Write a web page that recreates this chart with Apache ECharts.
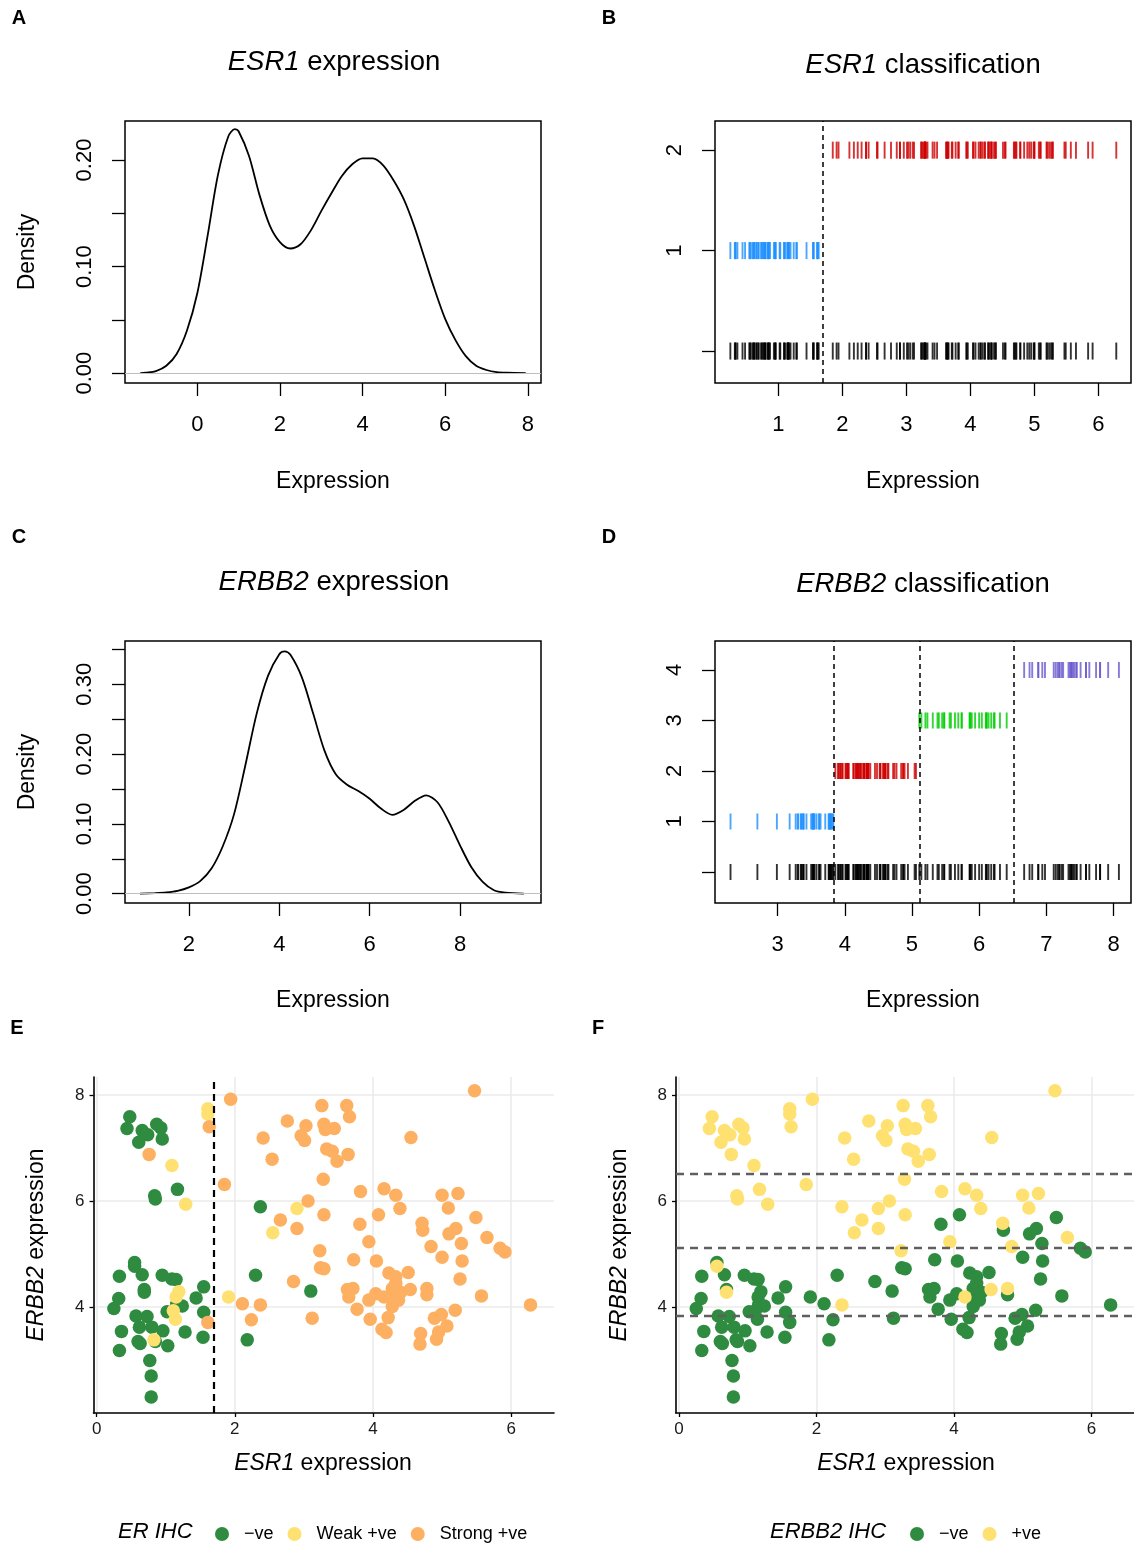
<!DOCTYPE html>
<html><head><meta charset="utf-8">
<script src="https://cdn.jsdelivr.net/npm/echarts@6/dist/echarts.min.js"></script>
<style>html,body{margin:0;padding:0;background:#fff}#c{width:1134px;height:1544px}</style>
</head><body><div id="c"></div>
<script>
// ---------- data ----------
// per-sample ESR1 expression (x in E/F), ERBB2 expression (y in E/F)
const esr1 = [0.48,0.44,0.66,0.74,0.87,0.93,0.61,0.95,0.76,1.09,0.84,0.85,1.17,1.29,1.61,1.61,1.63,1.94,1.85,2.37,
  2.41,2.54,2.76,3.03,2.96,3.01,3.26,3.29,3.31,3.33,3.28,3.06,2.90,3.29,2.66,2.55,2.90,3.23,3.24,3.29,
  2.85,3.10,3.12,2.30,2.11,2.37,2.24,2.18,1.91,1.61,1.55,1.55,1.54,1.44,0.55,0.55,0.33,0.66,0.95,1.09,
  1.15,0.69,0.69,0.32,0.25,1.19,1.15,1.16,1.24,1.02,1.11,1.14,0.57,0.73,0.62,0.80,0.96,0.36,0.60,0.63,
  0.83,0.85,1.03,1.28,0.33,0.77,0.79,0.79,3.62,3.66,3.44,3.41,3.48,3.64,3.82,4.16,4.33,4.39,4.08,3.81,
  3.94,3.72,4.05,4.55,5.47,5.00,5.23,5.09,5.49,4.71,4.72,5.10,5.20,4.84,5.28,5.00,5.29,5.65,5.84,5.91,
  5.26,5.57,6.28,4.51,4.23,4.33,4.54,4.78,4.78,3.63,3.71,3.65,3.77,3.96,3.94,4.04,4.16,4.28,4.30,4.37,
  4.28,4.22,4.13,4.19,4.69,4.68,4.89,4.99,5.07,4.95,4.92,5.19,4.33,4.40];
const erbb2 = [7.59,7.37,7.33,7.25,7.45,7.38,7.11,7.17,6.88,6.67,6.10,6.04,6.22,5.94,7.74,7.64,7.40,7.92,6.31,5.89,
  7.19,6.79,7.51,7.42,7.23,7.14,7.80,7.45,7.35,6.98,6.41,6.00,5.86,5.74,5.64,5.40,5.48,5.06,4.74,4.72,
  4.48,4.30,3.79,4.60,4.06,4.04,3.76,3.38,4.19,3.71,4.38,3.90,3.43,4.17,4.84,4.77,4.58,4.61,4.60,4.53,
  4.52,4.33,4.28,4.16,3.97,4.29,4.19,4.05,4.02,3.91,3.93,3.77,3.83,3.82,3.62,3.62,3.55,3.54,3.35,3.31,
  3.38,3.35,3.27,3.53,3.18,2.99,2.70,2.30,7.80,7.59,7.37,6.94,6.75,6.88,6.18,6.23,6.11,5.86,5.74,5.56,
  5.23,4.89,4.87,7.20,8.08,6.11,6.14,5.87,5.69,5.58,5.45,5.38,5.48,5.14,5.20,4.94,4.87,5.31,5.11,5.04,
  4.53,4.21,4.04,4.65,4.64,4.57,4.33,4.35,4.23,4.33,4.35,4.19,3.96,3.77,4.13,4.25,4.19,4.35,4.23,4.13,
  4.01,3.80,3.58,3.52,3.50,3.30,3.79,3.86,3.64,3.53,3.39,3.94,4.45,4.28];
// ER IHC class index (0 = −ve, 1 = Weak +ve, 2 = Strong +ve)
const erIHC = [0,0,0,0,0,0,0,0,2,1,0,0,0,1,1,1,2,2,2,0,
  2,2,2,2,2,2,2,2,2,2,2,2,1,2,2,1,2,2,2,2,
  2,0,2,0,2,2,2,0,1,2,0,0,0,0,0,0,0,0,0,0,
  0,0,0,0,0,1,1,0,0,0,1,1,0,0,0,0,0,0,0,0,
  1,0,0,0,0,0,0,0,2,2,2,2,2,2,2,2,2,2,2,2,
  2,2,2,2,2,2,2,2,2,2,2,2,2,2,2,2,2,2,2,2,
  2,2,2,2,2,2,2,2,2,2,2,2,2,2,2,2,2,2,2,2,
  2,2,2,2,2,2,2,2,2,2,2,2,2,2];
// ERBB2 IHC class index (0 = −ve, 1 = +ve)
const erbb2IHC = [1,1,1,1,1,1,1,1,1,1,1,1,1,1,1,1,1,1,1,1,
  1,1,1,1,1,1,1,1,1,1,1,1,1,1,1,1,1,1,0,0,
  0,0,0,0,0,1,0,0,0,0,0,0,0,0,0,1,0,0,0,0,
  0,0,1,0,0,0,0,0,0,0,0,0,0,0,0,0,0,0,0,0,
  0,0,0,0,0,0,0,0,1,1,1,1,1,1,1,1,1,1,0,0,
  1,0,0,1,1,1,1,1,0,1,0,0,0,1,0,0,0,1,0,0,
  0,0,0,0,0,0,1,1,0,0,0,0,0,0,0,0,1,0,0,0,
  0,0,0,0,0,0,0,0,0,0,0,0,0,0];
const erLevels = ['−ve', 'Weak +ve', 'Strong +ve'];
const erbb2Levels = ['−ve', '+ve'];
// classification thresholds
const esr1Cut = [1.70];
const erbb2Cuts = [3.84, 5.11, 6.52];
const esr1DensX = [-1.38,-1.25,-1.0,-0.75,-0.5,-0.25,0.0,0.25,0.5,0.75,0.91,1.0,1.25,1.5,1.75,2.0,2.25,2.5,2.75,3.0,
  3.25,3.5,3.75,4.0,4.25,4.5,4.75,5.0,5.25,5.5,5.75,6.0,6.25,6.5,6.75,7.0,7.25,7.5,7.95];
const esr1DensY = [0,0.0005,0.002,0.007,0.018,0.040,0.075,0.129,0.186,0.222,0.229,0.227,0.204,0.168,0.139,0.123,0.117,0.121,0.134,0.152,
  0.169,0.185,0.196,0.2015,0.2015,0.195,0.181,0.163,0.138,0.108,0.078,0.051,0.031,0.016,0.007,0.003,0.001,0.0004,0];
const erbb2DensX = [0.92,1.25,1.5,1.75,2.0,2.25,2.5,2.75,3.0,3.25,3.5,3.75,4.0,4.12,4.25,4.5,4.75,5.0,5.25,5.5,
  5.75,6.0,6.25,6.5,6.75,7.0,7.25,7.5,7.75,8.0,8.25,8.5,8.75,9.0,9.41];
const erbb2DensY = [0,0.0008,0.0018,0.004,0.009,0.018,0.036,0.068,0.114,0.184,0.258,0.312,0.343,0.347,0.342,0.310,0.258,0.205,0.171,0.156,
  0.147,0.136,0.122,0.113,0.120,0.133,0.141,0.131,0.103,0.069,0.038,0.017,0.005,0.0015,0];

// ---------- styles ----------
const FONT = '"Liberation Sans", Arial, Helvetica, sans-serif';
const erColors = ['#2E8B40', '#FEE171', '#FDB062'];
const her2Colors = ['#2E8B40', '#FEE171'];
const esr1RugColors = ['#1E90FF', '#CD0000'];
const erbb2RugColors = ['#1E90FF', '#CD0000', '#00CD00', '#6A5ACD'];

function rX(gi, min, max, ticks) {
  return {gridIndex: gi, type: 'value', min, max,
    axisLine: {show: false, onZero: false},
    axisTick: {show: true, inside: false, length: 13, customValues: ticks, lineStyle: {color: '#000', width: 1.3}},
    axisLabel: {show: true, customValues: ticks, margin: 31, fontSize: 22, color: '#000', fontFamily: FONT},
    splitLine: {show: false}};
}
function rY(gi, min, max, ticks, labels, fmt) {
  return {gridIndex: gi, type: 'value', min, max,
    axisLine: {show: false, onZero: false},
    axisTick: {show: true, inside: false, length: 13, customValues: ticks, lineStyle: {color: '#000', width: 1.3}},
    axisLabel: {show: true, customValues: labels, rotate: 90, margin: 29, fontSize: 22, color: '#000', fontFamily: FONT, formatter: fmt},
    splitLine: {show: false}};
}
function gX(gi, min, max, ticks) {
  return {gridIndex: gi, type: 'value', min, max,
    axisLine: {show: true, onZero: false, lineStyle: {color: '#000', width: 1.6}},
    axisTick: {show: true, length: 4, customValues: ticks, lineStyle: {color: '#000', width: 1.3}},
    axisLabel: {customValues: ticks, margin: 8, fontSize: 17, color: '#1a1a1a', fontFamily: FONT},
    splitLine: {show: true, lineStyle: {color: '#EBEBEB', width: 1.6}}};
}
function gY(gi, min, max, ticks) {
  return {gridIndex: gi, type: 'value', min, max,
    axisLine: {show: true, onZero: false, lineStyle: {color: '#000', width: 1.6}},
    axisTick: {show: true, length: 4, customValues: ticks, lineStyle: {color: '#000', width: 1.3}},
    axisLabel: {customValues: ticks, margin: 9, fontSize: 17, color: '#1a1a1a', fontFamily: FONT},
    splitLine: {show: true, lineStyle: {color: '#EBEBEB', width: 1.6}}};
}

const boxed = {show: true, borderColor: '#000', borderWidth: 1.5, backgroundColor: 'transparent'};
const grids = [
  Object.assign({left: 125, top: 121, width: 416, height: 262}, boxed),
  Object.assign({left: 715, top: 121, width: 416, height: 262}, boxed),
  Object.assign({left: 125, top: 641, width: 416, height: 262}, boxed),
  Object.assign({left: 715, top: 641, width: 416, height: 262}, boxed),
  {left: 93.5, top: 1077, width: 460.5, height: 336},
  {left: 676, top: 1077, width: 460, height: 336}
];

const xAxes = [
  rX(0, -1.75, 8.32, [0, 2, 4, 6, 8]),
  rX(1, 0.01, 6.51, [1, 2, 3, 4, 5, 6]),
  rX(2, 0.587, 9.79, [2, 4, 6, 8]),
  rX(3, 2.069, 8.26, [3, 4, 5, 6, 7, 8]),
  gX(4, -0.045, 6.62, [0, 2, 4, 6]),
  gX(5, -0.045, 6.62, [0, 2, 4, 6])
];
const yAxes = [
  rY(0, -0.0092, 0.2366, [0, 0.05, 0.1, 0.15, 0.2], [0, 0.1, 0.2], v => v.toFixed(2)),
  rY(1, -0.318, 2.29, [0, 1, 2], [1, 2], v => String(v)),
  rY(2, -0.0133, 0.362, [0, 0.05, 0.1, 0.15, 0.2, 0.25, 0.3, 0.35], [0, 0.1, 0.2, 0.3], v => v.toFixed(2)),
  rY(3, -0.614, 4.574, [0, 1, 2, 3, 4], [1, 2, 3, 4], v => String(v)),
  gY(4, 2.0, 8.34, [4, 6, 8]),
  gY(5, 2.0, 8.34, [4, 6, 8])
];

const series = [];
const noEmph = {disabled: true};
// A / C density lines
[[0, esr1DensX, esr1DensY], [2, erbb2DensX, erbb2DensY]].forEach(([gi, xs, ys]) => {
  series.push({type: 'line', xAxisIndex: gi, yAxisIndex: gi, data: xs.map((x, i) => [x, ys[i]]),
    smooth: 0.3, symbol: 'none', lineStyle: {color: '#000', width: 1.8}, emphasis: noEmph, z: 3,
    markLine: {silent: true, symbol: ['none', 'none'], label: {show: false}, animation: false,
      lineStyle: {color: '#BEBEBE', width: 1.2, type: 'solid'}, data: [{yAxis: 0}]}});
});
// B rugs
const rugB = (data, color) => ({type: 'scatter', xAxisIndex: 1, yAxisIndex: 1, data, symbol: 'rect',
  symbolSize: [1.9, 17], itemStyle: {color}, emphasis: noEmph, silent: true});
const sB0 = rugB(esr1.map(v => [v, 0]), '#000');
sB0.markLine = {silent: true, symbol: ['none', 'none'], label: {show: false}, animation: false,
  lineStyle: {color: '#000', width: 1.5, type: [5, 4]}, data: esr1Cut.map(v => ({xAxis: v}))};
series.push(sB0);
series.push(rugB(esr1.filter(v => v < esr1Cut[0]).map(v => [v, 1]), esr1RugColors[0]));
series.push(rugB(esr1.filter(v => v >= esr1Cut[0]).map(v => [v, 2]), esr1RugColors[1]));
// D rugs
const rugD = (data, color) => ({type: 'scatter', xAxisIndex: 3, yAxisIndex: 3, data, symbol: 'rect',
  symbolSize: [1.9, 16], itemStyle: {color}, emphasis: noEmph, silent: true});
const sD0 = rugD(erbb2.map(v => [v, 0]), '#000');
sD0.markLine = {silent: true, symbol: ['none', 'none'], label: {show: false}, animation: false,
  lineStyle: {color: '#000', width: 1.5, type: [5, 4]}, data: erbb2Cuts.map(v => ({xAxis: v}))};
series.push(sD0);
const levelOf = v => erbb2Cuts.filter(c => v >= c).length;
for (let k = 0; k < 4; k++) {
  series.push(rugD(erbb2.filter(v => levelOf(v) === k).map(v => [v, k + 1]), erbb2RugColors[k]));
}
// E scatter by ER IHC
erLevels.forEach((name, k) => {
  const s = {type: 'scatter', name, xAxisIndex: 4, yAxisIndex: 4, symbol: 'circle', symbolSize: 13.5,
    data: esr1.map((x, i) => [x, erbb2[i], erIHC[i]]).filter(d => d[2] === k).map(d => [d[0], d[1]]),
    itemStyle: {color: erColors[k], opacity: 1}, emphasis: noEmph};
  if (k === 2) s.markLine = {silent: true, symbol: ['none', 'none'], label: {show: false}, animation: false,
    lineStyle: {color: '#000', width: 2.2, type: [7, 5]}, data: esr1Cut.map(v => ({xAxis: v}))};
  series.push(s);
});
// F scatter by ERBB2 IHC
erbb2Levels.forEach((lvl, k) => {
  const s = {type: 'scatter', name: 'ERBB2 ' + lvl, xAxisIndex: 5, yAxisIndex: 5, symbol: 'circle', symbolSize: 13.5,
    data: esr1.map((x, i) => [x, erbb2[i], erbb2IHC[i]]).filter(d => d[2] === k).map(d => [d[0], d[1]]),
    itemStyle: {color: her2Colors[k], opacity: 1}, emphasis: noEmph};
  if (k === 1) s.markLine = {silent: true, symbol: ['none', 'none'], label: {show: false}, animation: false,
    lineStyle: {color: '#5f5f5f', width: 2.3, type: [8, 6]}, data: erbb2Cuts.map(v => ({yAxis: v}))};
  series.push(s);
});

// ---------- text ----------
function T(x, y, text, size, extra) {
  extra = extra || {};
  const style = Object.assign({text, fontSize: size, fontFamily: FONT, fill: '#000',
    align: 'center', verticalAlign: 'middle', textAlign: 'center', textVerticalAlign: 'middle',
    rich: {i: {fontStyle: 'italic', fontSize: size, fontFamily: FONT, fill: '#000'}}}, extra.style || {});
  return {type: 'text', x, y, rotation: extra.rotation || 0, silent: true, z: 100, style};
}
const bold = {style: {fontWeight: 'bold'}};
const rot = {rotation: Math.PI / 2};
const leftAl = {style: {align: 'left', textAlign: 'left'}};
const graphic = [
  T(19, 18, 'A', 20, bold), T(609, 18, 'B', 20, bold),
  T(19, 537, 'C', 20, bold), T(609, 537, 'D', 20, bold),
  T(17, 1028, 'E', 20, bold), T(598, 1028, 'F', 20, bold),
  T(334, 62, '{i|ESR1} expression', 27.5), T(923, 65, '{i|ESR1} classification', 27.5),
  T(334, 582, '{i|ERBB2} expression', 27.5), T(923, 584, '{i|ERBB2} classification', 27.5),
  T(333, 482, 'Expression', 23), T(923, 482, 'Expression', 23),
  T(333, 1001, 'Expression', 23), T(923, 1001, 'Expression', 23),
  T(28, 252, 'Density', 23, rot), T(28, 772, 'Density', 23, rot),
  T(323, 1464, '{i|ESR1} expression', 23), T(906, 1464, '{i|ESR1} expression', 23),
  T(37, 1245, '{i|ERBB2} expression', 23, rot), T(620, 1245, '{i|ERBB2} expression', 23, rot),
  T(118, 1532, '{i|ER IHC}', 22, leftAl), T(770, 1532, '{i|ERBB2 IHC}', 22, leftAl)
];

const legendBase = {orient: 'horizontal', icon: 'circle', itemWidth: 34, itemHeight: 14, itemGap: 14, padding: 0,
  top: 1525, selectedMode: false, textStyle: {fontSize: 18, fontFamily: FONT, color: '#000'}};
const legend = [
  Object.assign({left: 215, data: erLevels}, legendBase),
  Object.assign({left: 910, data: erbb2Levels.map(l => 'ERBB2 ' + l), formatter: n => n.replace('ERBB2 ', '')}, legendBase)
];

const chart = echarts.init(document.getElementById('c'), null, {renderer: 'canvas', width: 1134, height: 1544});
chart.setOption({
  animation: false, backgroundColor: '#fff', textStyle: {fontFamily: FONT},
  grid: grids, xAxis: xAxes, yAxis: yAxes, series, graphic, legend, tooltip: {show: false}
});
</script></body></html>
